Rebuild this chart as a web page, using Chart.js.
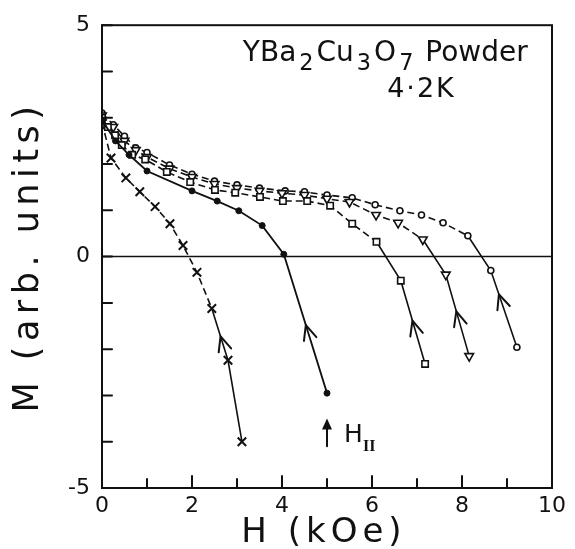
<!DOCTYPE html>
<html>
<head>
<meta charset="utf-8">
<script src="https://cdn.jsdelivr.net/npm/chart.js@4.4.1/dist/chart.umd.min.js"></script>
<style>
  html, body { margin: 0; padding: 0; background: #fff; }
</style>
</head>
<body>
<canvas id="magChart" width="575" height="549"></canvas>
<script>
// M(H) loops, YBa2Cu3O7 powder at 4.2 K
var fieldCross  = [0, 0.2, 0.53, 0.84, 1.18, 1.51, 1.8, 2.11, 2.44, 2.8, 3.11];
var momentCross = [2.9, 2.13, 1.7, 1.4, 1.08, 0.71, 0.24, -0.34, -1.12, -2.24, -4.0];

var fieldDot  = [0, 0.3, 0.6, 1.0, 2.0, 2.56, 3.04, 3.56, 4.04, 5.0];
var momentDot = [2.95, 2.5, 2.2, 1.85, 1.42, 1.2, 0.99, 0.67, 0.05, -2.95];

var fieldSquare  = [0, 0.13, 0.29, 0.44, 0.67, 0.96, 1.44, 1.96, 2.51, 2.96, 3.51, 4.02, 4.56, 5.07, 5.56, 6.1, 6.64, 7.18];
var momentSquare = [3.0, 2.8, 2.62, 2.41, 2.2, 2.1, 1.83, 1.61, 1.44, 1.38, 1.29, 1.2, 1.2, 1.1, 0.71, 0.32, -0.52, -2.32];

var fieldTri  = [0, 0.25, 0.5, 0.75, 1.0, 1.5, 2.0, 2.5, 3.0, 3.5, 4.0, 4.5, 5.0, 5.5, 6.09, 6.58, 7.13, 7.64, 8.16];
var momentTri = [3.05, 2.8, 2.5, 2.3, 2.15, 1.9, 1.72, 1.57, 1.48, 1.42, 1.37, 1.33, 1.25, 1.18, 0.9, 0.73, 0.37, -0.39, -2.15];

var fieldRing  = [0, 0.25, 0.5, 0.75, 1.0, 1.5, 2.0, 2.5, 3.0, 3.5, 4.07, 4.5, 5.0, 5.56, 6.07, 6.62, 7.1, 7.58, 8.13, 8.64, 9.22];
var momentRing = [3.1, 2.85, 2.6, 2.35, 2.25, 1.98, 1.78, 1.63, 1.55, 1.48, 1.42, 1.4, 1.33, 1.27, 1.12, 0.99, 0.9, 0.73, 0.45, -0.3, -1.96];

var xTickLabels = ['0', '2', '4', '6', '8', '10'];
var yTickLabels = ['-5', '0', '5'];

var ink = '#111';
var font = '"DejaVu Sans", sans-serif';

function pts(hs, ms) {
    return hs.map(function(h, i) { return { x: h, y: ms[i] }; });
}

// arrowheads on the last branch of each curve: dataset, start point, position along segment
var arrowMarks = [
    { ds: 0, i: 8, t: 0.54 },
    { ds: 1, i: 8, t: 0.51 },
    { ds: 2, i: 16, t: 0.48 },
    { ds: 3, i: 17, t: 0.45 },
    { ds: 4, i: 19, t: 0.31 }
];

function chevron(ctx, a, b, t) {
    var px = a.x + (b.x - a.x) * t, py = a.y + (b.y - a.y) * t;
    var ang = Math.atan2(a.y - b.y, a.x - b.x);
    var len = 16, spread = 0.42;
    ctx.beginPath();
    ctx.moveTo(px - len * Math.cos(ang - spread), py - len * Math.sin(ang - spread));
    ctx.lineTo(px, py);
    ctx.lineTo(px - len * Math.cos(ang + spread), py - len * Math.sin(ang + spread));
    ctx.stroke();
}

function drawParts(ctx, x, base, parts, size) {
    parts.forEach(function(p) {
        var s = p[1] ? size * 0.8 : size;
        ctx.font = s + 'px ' + font;
        ctx.fillText(p[0], x, p[1] ? base + size * 0.32 : base);
        x += ctx.measureText(p[0]).width + 3;
    });
}

var notes = {
    id: 'notes',
    afterDraw: function(chart) {
        var ctx = chart.ctx, a = chart.chartArea;
        var xs = chart.scales.x, ys = chart.scales.y;
        ctx.save();
        ctx.strokeStyle = ink;
        ctx.fillStyle = ink;
        ctx.lineCap = 'round';

        // frame
        ctx.lineWidth = 2;
        ctx.strokeRect(a.left, a.top, a.right - a.left, a.bottom - a.top);

        // zero line
        ctx.lineWidth = 1.5;
        var y0 = ys.getPixelForValue(0);
        ctx.beginPath(); ctx.moveTo(a.left, y0); ctx.lineTo(a.right, y0); ctx.stroke();

        // inward ticks
        ctx.lineWidth = 2;
        ys.ticks.forEach(function(t) {
            var py = ys.getPixelForValue(t.value);
            ctx.beginPath(); ctx.moveTo(a.left, py); ctx.lineTo(a.left + 10, py); ctx.stroke();
        });
        xs.ticks.forEach(function(t) {
            var px = xs.getPixelForValue(t.value);
            var l = t.value % 2 === 0 ? 12 : 9;
            ctx.beginPath(); ctx.moveTo(px, a.bottom); ctx.lineTo(px, a.bottom - l); ctx.stroke();
        });

        // arrowheads on return branches
        ctx.lineWidth = 2;
        arrowMarks.forEach(function(m) {
            var d = chart.getDatasetMeta(m.ds).data;
            chevron(ctx, d[m.i], d[m.i + 1], m.t);
        });

        // H_II marker
        var hx = xs.getPixelForValue(5.0);
        var top = ys.getPixelForValue(-3.5), bot = ys.getPixelForValue(-4.1);
        ctx.lineWidth = 2;
        ctx.beginPath(); ctx.moveTo(hx, bot); ctx.lineTo(hx, top + 6); ctx.stroke();
        ctx.beginPath();
        ctx.moveTo(hx, top); ctx.lineTo(hx - 5, top + 11); ctx.lineTo(hx + 5, top + 11); ctx.closePath();
        ctx.fill();
        ctx.textBaseline = 'alphabetic';
        ctx.textAlign = 'left';
        ctx.font = '25px ' + font;
        var hPos = xs.getPixelForValue(5.38), hBase = ys.getPixelForValue(-4.0);
        ctx.fillText('H', hPos, hBase);
        ctx.font = 'bold 16px "Liberation Serif", serif';
        ctx.fillText('II', hPos + 19, hBase + 9);

        // sample label
        drawParts(ctx, xs.getPixelForValue(3.13), ys.getPixelForValue(4.22),
            [['YBa', false], ['2', true], ['Cu', false], ['3', true], ['O', false], ['7', true], [' Powder', false]], 28);
        ctx.textAlign = 'center';
        ctx.font = '27px ' + font;
        ctx.letterSpacing = '2px';
        ctx.fillText('4\u00b72K', xs.getPixelForValue(7.1), ys.getPixelForValue(3.45));

        // axis titles, drawn with wider tracking like the original lettering
        ctx.font = '34px ' + font;
        ctx.letterSpacing = '5px';
        ctx.textBaseline = 'middle';
        ctx.fillText('H (kOe)', (a.left + a.right) / 2 - 3, 533);
        ctx.font = '35px ' + font;
        ctx.letterSpacing = '5.5px';
        ctx.translate(29, (a.top + a.bottom) / 2);
        ctx.rotate(-Math.PI / 2);
        ctx.fillText('M (arb. units)', 0, 0);
        ctx.restore();
    }
};

function dashUpper(ctx) {
    return ctx.p1.parsed.y > 0 ? [7, 4] : undefined;
}

var ctx = document.getElementById('magChart').getContext('2d');
var chart = new Chart(ctx, {
    type: 'line',
    data: {
        datasets: [{
            label: 'x',
            data: pts(fieldCross, momentCross),
            borderColor: ink, backgroundColor: ink, borderWidth: 1.6,
            pointStyle: 'crossRot', pointRadius: 6, pointBorderWidth: 2,
            segment: { borderDash: function(c) { return c.p1DataIndex <= 8 ? [7, 4] : undefined; } }
        }, {
            label: 'dot',
            data: pts(fieldDot, momentDot),
            borderColor: ink, backgroundColor: ink, borderWidth: 1.8,
            pointStyle: 'circle', pointRadius: 3, pointBorderWidth: 1
        }, {
            label: 'square',
            data: pts(fieldSquare, momentSquare),
            borderColor: ink, backgroundColor: '#fff', borderWidth: 1.6,
            pointStyle: 'rect', pointRadius: 4.5, pointBorderWidth: 1.6,
            segment: { borderDash: dashUpper }
        }, {
            label: 'triangle',
            data: pts(fieldTri, momentTri),
            borderColor: ink, backgroundColor: '#fff', borderWidth: 1.6,
            pointStyle: 'triangle', rotation: 180, pointRadius: 5, pointBorderWidth: 1.6,
            segment: { borderDash: dashUpper }
        }, {
            label: 'ring',
            data: pts(fieldRing, momentRing),
            borderColor: ink, backgroundColor: '#fff', borderWidth: 1.6,
            pointStyle: 'circle', pointRadius: 3, pointBorderWidth: 1.6,
            segment: { borderDash: dashUpper }
        }]
    },
    options: {
        responsive: false,
        animation: false,
        layout: { padding: { top: 22, right: 23, left: 0, bottom: 0 } },
        plugins: { legend: { display: false }, tooltip: { enabled: false } },
        scales: {
            x: {
                type: 'linear', min: 0, max: 10,
                grid: { display: false, drawTicks: false },
                border: { display: false },
                ticks: {
                    stepSize: 1, padding: 5, color: ink, maxRotation: 0, autoSkip: false,
                    font: { family: font, size: 22 },
                    callback: function(v) { return xTickLabels.indexOf(String(v)) >= 0 ? String(v) : ''; }
                },
                afterFit: function(s) { s.height = 61; }
            },
            y: {
                type: 'linear', min: -5, max: 5,
                grid: { display: false, drawTicks: false },
                border: { display: false },
                ticks: {
                    stepSize: 1, padding: 12, color: ink, autoSkip: false,
                    font: { family: font, size: 22 },
                    callback: function(v) { return yTickLabels.indexOf(String(v)) >= 0 ? String(v) : ''; }
                },
                afterFit: function(s) { s.width = 102; }
            }
        }
    },
    plugins: [notes]
});
</script>
</body>
</html>
